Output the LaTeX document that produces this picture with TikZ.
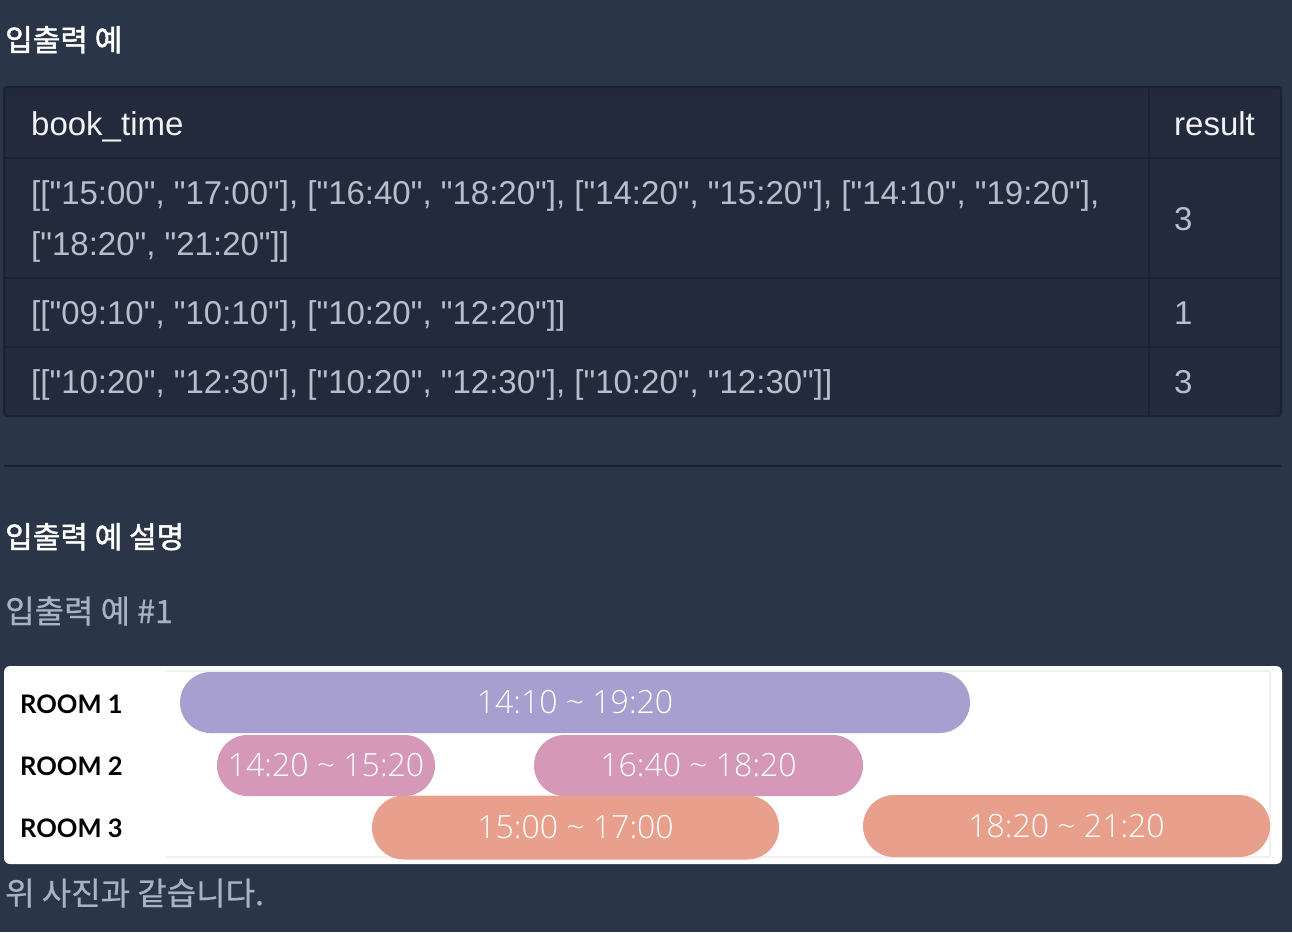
\documentclass[tikz,border=0pt]{standalone}
\usepackage{fontspec}
\setmainfont{Liberation Sans}[Ligatures=TeXOff]
\newfontfamily\kr{Noto Sans CJK KR}[FakeBold=0.6]
\newfontfamily\krh{Noto Sans CJK KR}[FakeBold=1.6]
\newfontfamily\lato{Lato}
\newfontfamily\osans{Open Sans Light}
\definecolor{bg}{HTML}{2A3547}
\definecolor{cell}{HTML}{222A3B}
\definecolor{grid}{HTML}{1B2232}
\definecolor{txt}{HTML}{B4BFCC}
\definecolor{hdr}{HTML}{F0F2F5}
\definecolor{sub}{HTML}{A7B3C2}
\definecolor{purp}{HTML}{A69FD0}
\definecolor{pinkbar}{HTML}{D598B8}
\definecolor{salm}{HTML}{E8A08C}
\definecolor{faint}{HTML}{F0F0F0}
\tikzset{
  title/.style={anchor=base west, inner sep=0, text=white, font=\krh\fontsize{30}{34}\selectfont},
  subtitle/.style={anchor=base west, inner sep=0, text=sub, font=\kr\fontsize{32}{36}\selectfont},
  hcell/.style={anchor=base west, inner sep=0, text=hdr, font=\fontsize{33}{38}\selectfont},
  dcell/.style={anchor=base west, inner sep=0, text=txt, font=\fontsize{33}{38}\selectfont},
  room/.style={anchor=base west, inner sep=0, text=black, font=\lato\bfseries\fontsize{25.5}{28}\selectfont},
  bar/.style={inner sep=0, rounded corners=30.5, text=white, font=\osans\fontsize{32}{34}\selectfont},
  gridline/.style={draw=grid, line width=2},
}
\begin{document}
\begin{tikzpicture}[x=1pt,y=-1pt]
\fill[bg] (0,0) rectangle (1292,932);
\useasboundingbox (0,0) rectangle (1292,932);
% heading
\node[title] (t1) at (5,51) {입출력 예};
% table
\fill[cell, rounded corners=3] (4,87) rectangle (1281,416);
\draw[gridline, rounded corners=3] (4,87) rectangle (1281,416);
\draw[gridline] (4,158) -- (1281,158);
\draw[gridline] (4,278) -- (1281,278);
\draw[gridline] (4,347) -- (1281,347);
\draw[gridline] (1149,87) -- (1149,416);
\node[hcell] (h1) at (31,135) {book\_time};
\node[hcell] (h2) at (1174,135) {result};
\node[dcell] (r1a) at (31,204) {[["15:00", "17:00"], ["16:40", "18:20"], ["14:20", "15:20"], ["14:10", "19:20"],};
\node[dcell] (r1b) at (31,255) {["18:20", "21:20"]]};
\node[dcell] (v1) at (1174,230) {3};
\node[dcell] (r2) at (31,324) {[["09:10", "10:10"], ["10:20", "12:20"]]};
\node[dcell] (v2) at (1174,324) {1};
\node[dcell] (r3) at (31,393) {[["10:20", "12:30"], ["10:20", "12:30"], ["10:20", "12:30"]]};
\node[dcell] (v3) at (1174,393) {3};
% separator
\draw[gridline] (4,466) -- (1281,466);
\node[title] (t2) at (5,548) {입출력 예 설명};
\node[subtitle] (t3) at (5,623) {입출력 예 \#1};
% image
\fill[white, rounded corners=6] (4,666) rectangle (1282,864);
\draw[faint, line width=1.5] (166,671) -- (1270,671) -- (1270,857) -- (166,857);
\node[room] (room1) at (20,713) {ROOM 1};
\node[room] (room2) at (20,775) {ROOM 2};
\node[room] (room3) at (20,837) {ROOM 3};
\node[bar, fill=purp, minimum width=790, minimum height=61] (b1) at (575,702.5) {14:10 \textasciitilde\ 19:20};
\node[bar, fill=pinkbar, minimum width=218, minimum height=61] (b2) at (326,765.5) {14:20 \textasciitilde\ 15:20};
\node[bar, fill=pinkbar, minimum width=329, minimum height=61] (b3) at (698.5,765.5) {16:40 \textasciitilde\ 18:20};
\node[bar, fill=salm, minimum width=407, minimum height=64, rounded corners=32] (b4) at (575.5,827.5) {15:00 \textasciitilde\ 17:00};
\node[bar, fill=salm, minimum width=407, minimum height=62, rounded corners=31] (b5) at (1066.5,826) {18:20 \textasciitilde\ 21:20};
\node[subtitle] (t4) at (5,905) {위 사진과 같습니다.};
\end{tikzpicture}
\end{document}
